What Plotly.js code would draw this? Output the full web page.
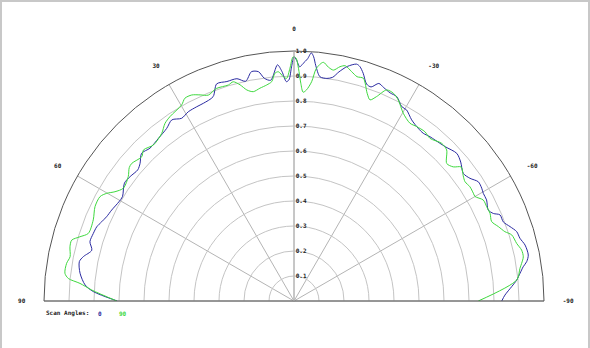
<!DOCTYPE html>
<html>
<head>
<meta charset="utf-8">
<script src="https://cdn.plot.ly/plotly-3.0.1.min.js"></script>
<style>
html,body{margin:0;padding:0;background:#fff;}
#wrap{position:relative;width:590px;height:348px;}
#chart{width:590px;height:348px;}
#frame{position:absolute;left:0;top:0;width:586px;height:350px;border-left:2px solid #c8c8c8;border-top:2px solid #c8c8c8;border-right:2px solid #c8c8c8;pointer-events:none;}
</style>
</head>
<body>
<div id="wrap"><div id="chart"></div><div id="frame"></div></div>
<script>
// Scan angle 0 (blue)
const theta0 = [90, 87.3, 85.6, 82.6, 79.6, 78.1, 75.9, 73.8, 71.4, 69.4, 67.6, 65.8, 63.5, 60.5, 58.7, 55.2, 52.8, 50.0, 48.2, 45.9, 43.3, 39.8, 36.4, 34.0, 31.6, 29.2, 26.6, 24.6, 21.6, 19.6, 17.0, 14.4, 12.4, 10.5, 8.8, 7.6, 6.0, 4.0, 3.0, 2.0, 1.3, 0.6, 0, -0.6, -1.4, -2.2, -3.2, -4.0, -4.6, -5.3, -6.6, -8.4, -9.8, -11.1, -12.8, -14.8, -15.7, -16.9, -18.5, -19.8, -21.3, -22.8, -24.8, -26.7, -29.0, -30.5, -33.0, -35.7, -37.6, -39.6, -41.2, -44.4, -47.8, -50.2, -53.0, -55.1, -57.1, -59.0, -60.4, -62.3, -64.9, -66.3, -67.3, -69.3, -71.0, -72.7, -74.5, -76.4, -78.9, -80.4, -81.5, -83.0, -84.6, -86.2, -88.4, -90];
const r0 = [0.707, 0.804, 0.838, 0.863, 0.873, 0.861, 0.834, 0.850, 0.847, 0.843, 0.832, 0.822, 0.815, 0.805, 0.803, 0.826, 0.823, 0.816, 0.826, 0.849, 0.840, 0.847, 0.858, 0.874, 0.858, 0.867, 0.869, 0.870, 0.879, 0.922, 0.918, 0.918, 0.900, 0.933, 0.928, 0.899, 0.888, 0.947, 0.919, 0.878, 0.885, 0.937, 0.977, 0.964, 0.937, 0.951, 0.970, 0.995, 0.980, 0.945, 0.903, 0.900, 0.908, 0.934, 0.962, 0.980, 0.974, 0.952, 0.915, 0.910, 0.934, 0.926, 0.917, 0.915, 0.889, 0.887, 0.864, 0.851, 0.847, 0.853, 0.856, 0.864, 0.879, 0.868, 0.848, 0.858, 0.878, 0.876, 0.871, 0.870, 0.858, 0.871, 0.893, 0.895, 0.914, 0.933, 0.938, 0.951, 0.955, 0.944, 0.927, 0.911, 0.895, 0.873, 0.844, 0.831];

// Scan angle 90 (green)
const theta90 = [90, 86.9, 85.3, 84.3, 83.1, 80.6, 78.8, 76.4, 74.7, 73.3, 71.8, 68.0, 64.6, 61.7, 60.1, 58.6, 56.5, 53.1, 51.0, 49.7, 46.5, 44.9, 42.0, 38.3, 36.0, 33.9, 29.8, 28.3, 26.4, 24.5, 22.6, 20.1, 16.9, 15.5, 14.0, 12.6, 11.0, 9.1, 7.2, 5.8, 4.8, 3.9, 2.7, 1.9, 1.0, 0.2, -0.5, -1.1, -1.8, -2.5, -3.4, -4.6, -5.5, -7.0, -8.4, -9.7, -11.1, -12.3, -14.1, -15.7, -17.3, -19.4, -20.7, -22.0, -23.7, -25.6, -27.4, -30.2, -33.1, -35.1, -37.7, -39.9, -43.1, -45.3, -48.0, -49.9, -51.3, -53.5, -55.1, -57.0, -59.0, -60.0, -61.9, -63.9, -65.9, -68.1, -70.0, -71.8, -73.1, -75.5, -77.4, -79.1, -80.6, -81.8, -84.6, -90];
const r90 = [0.709, 0.810, 0.859, 0.907, 0.923, 0.922, 0.913, 0.922, 0.922, 0.894, 0.866, 0.866, 0.881, 0.881, 0.864, 0.839, 0.818, 0.829, 0.848, 0.851, 0.839, 0.853, 0.840, 0.854, 0.878, 0.889, 0.904, 0.921, 0.920, 0.906, 0.892, 0.905, 0.903, 0.910, 0.891, 0.865, 0.853, 0.862, 0.871, 0.882, 0.914, 0.919, 0.898, 0.891, 0.931, 0.977, 0.971, 0.931, 0.871, 0.836, 0.846, 0.880, 0.935, 0.962, 0.945, 0.937, 0.955, 0.963, 0.946, 0.932, 0.933, 0.881, 0.860, 0.882, 0.922, 0.921, 0.906, 0.869, 0.849, 0.853, 0.856, 0.848, 0.864, 0.859, 0.822, 0.833, 0.857, 0.842, 0.834, 0.839, 0.837, 0.836, 0.858, 0.858, 0.859, 0.852, 0.870, 0.888, 0.910, 0.920, 0.933, 0.934, 0.923, 0.913, 0.895, 0.737];

const angTickVals = [90, 60, 30, 0, -30, -60, -90];
const angTickText = ['90', '60', '30', '0', '-30', '-60', '-90'];
const radTickVals = [0.1, 0.2, 0.3, 0.4, 0.5, 0.6, 0.7, 0.8, 0.9, 1.0];
const radTickText = ['0.1', '0.2', '0.3', '0.4', '0.5', '0.6', '0.7', '0.8', '0.9', '1.0'];
const seriesNames = ['0', '90'];
const legendTitle = 'Scan Angles:';

const BLUE = '#2a2aa0';
const GREEN = '#3ed83e';
const FONT = {family: 'DejaVu Sans Mono, monospace', size: 6, color: '#222', weight: 'bold'};

const traces = [
  {type: 'scatterpolar', mode: 'lines', name: seriesNames[0], theta: theta0, r: r0,
   line: {color: BLUE, width: 1, shape: 'spline', smoothing: 0.8}},
  {type: 'scatterpolar', mode: 'lines', name: seriesNames[1], theta: theta90, r: r90,
   line: {color: GREEN, width: 1, shape: 'spline', smoothing: 0.8}}
];

const layout = {
  width: 590, height: 348,
  margin: {l: 44, r: 46, t: 51, b: 47},
  paper_bgcolor: '#fff',
  showlegend: false,
  font: FONT,
  polar: {
    sector: [0, 180],
    bgcolor: '#fff',
    angularaxis: {
      rotation: 90, direction: 'counterclockwise',
      tickmode: 'array', tickvals: angTickVals, ticktext: angTickText,
      ticks: 'outside', ticklen: 17, tickcolor: 'rgba(0,0,0,0)',
      showline: true, linecolor: '#555', linewidth: 1,
      showgrid: true, gridcolor: '#b4b4b4', gridwidth: 1,
      tickfont: FONT
    },
    radialaxis: {
      range: [0, 1], angle: 90, side: 'clockwise',
      tickmode: 'array', tickvals: radTickVals, ticktext: radTickText,
      ticks: '', showline: true, linecolor: '#b4b4b4', linewidth: 1,
      showgrid: true, gridcolor: '#c4c4c4', gridwidth: 1,
      tickfont: FONT, tickangle: 90
    }
  },
  annotations: [
    {xref: 'paper', yref: 'paper', x: 0, y: -0.048, xanchor: 'left', yanchor: 'middle', showarrow: false,
     text: legendTitle, font: FONT},
    {xref: 'paper', yref: 'paper', x: 0.112, y: -0.048, xanchor: 'center', yanchor: 'middle', showarrow: false,
     text: seriesNames[0], font: Object.assign({}, FONT, {color: BLUE})},
    {xref: 'paper', yref: 'paper', x: 0.158, y: -0.048, xanchor: 'center', yanchor: 'middle', showarrow: false,
     text: seriesNames[1], font: Object.assign({}, FONT, {color: GREEN})}
  ]
};

Plotly.newPlot('chart', traces, layout, {displayModeBar: false, staticPlot: true});
</script>
</body>
</html>
